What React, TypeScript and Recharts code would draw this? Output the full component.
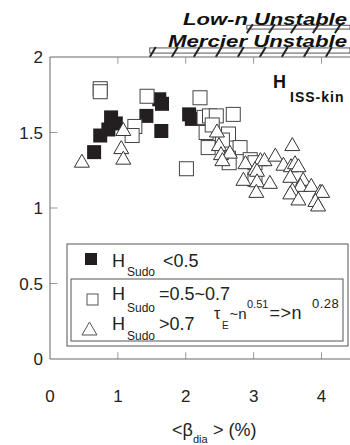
import React from "react";
import { ScatterChart, Scatter, XAxis, YAxis, ReferenceLine, ReferenceArea } from "recharts";

// H_Sudo < 0.5 (filled squares)
const lowBeta = [0.65, 0.74, 0.86, 0.9, 0.97, 1.42, 1.61, 1.65, 1.64, 2.05, 2.09];
const lowH = [1.37, 1.48, 1.52, 1.6, 1.56, 1.61, 1.72, 1.69, 1.51, 1.62, 1.59];

// H_Sudo = 0.5~0.7 (open squares)
const midBeta = [0.74, 0.74, 1.43, 1.25, 1.21, 2.01, 2.21, 2.27, 2.35, 2.45, 2.7, 2.3, 2.39, 2.33, 2.63, 2.54, 2.8, 2.63, 2.64, 2.95, 3.02, 3.02];
const midH = [1.79, 1.77, 1.74, 1.54, 1.48, 1.26, 1.73, 1.6, 1.61, 1.61, 1.62, 1.5, 1.55, 1.4, 1.49, 1.45, 1.4, 1.33, 1.3, 1.32, 1.3, 1.19];

// H_Sudo > 0.7 (open triangles)
const highBeta = [0.47, 1.08, 1.05, 1.08, 2.46, 2.49, 2.52, 2.65, 2.54, 2.88, 3.1, 3.16, 3.32, 3.44, 3.57, 3.55, 3.61, 3.66, 3.02, 3.05, 2.85, 3.05, 3.24, 3.04, 3.54, 3.73, 3.69, 3.57, 3.54, 3.66, 3.85, 3.98, 4.01, 3.91, 3.95];
const highH = [1.31, 1.52, 1.4, 1.33, 1.51, 1.42, 1.36, 1.37, 1.32, 1.3, 1.32, 1.32, 1.35, 1.29, 1.42, 1.28, 1.3, 1.28, 1.26, 1.25, 1.19, 1.18, 1.17, 1.11, 1.21, 1.19, 1.15, 1.12, 1.1, 1.06, 1.15, 1.11, 1.11, 1.05, 1.02];

const xTicks = [0, 1, 2, 3, 4];
const yTicks = [0, 0.5, 1, 1.5, 2];

// stability limits (beta where region starts)
const mercierStart = 1.47;
const lowNStart = 2.9;

const toPoints = (xs: number[], ys: number[]) => xs.map((x, i) => ({ beta: x, h: ys[i] }));

const lowData = toPoints(lowBeta, lowH);
const midData = toPoints(midBeta, midH);
const highData = toPoints(highBeta, highH);

const FONT = "'Liberation Sans', Arial, sans-serif";
const X_MAX = 4.42;

const FilledSquare = (p: any) => (
  <rect x={p.cx - 7} y={p.cy - 7} width={14} height={14} fill="#231f20" />
);
const OpenSquare = (p: any) => (
  <rect x={p.cx - 7} y={p.cy - 7} width={14} height={14} fill="#fff" stroke="#444" strokeWidth={1} />
);
const Triangle = (p: any) => (
  <polygon
    points={`${p.cx},${p.cy - 7} ${p.cx - 7.5},${p.cy + 6} ${p.cx + 7.5},${p.cy + 6}`}
    fill="#fff"
    stroke="#333"
    strokeWidth={1}
  />
);

const HatchBar = (p: any) => {
  const slashes = [];
  for (let sx = p.x + 3; sx < p.x + p.width; sx += 22) {
    slashes.push(
      <line key={sx} x1={sx + 3} y1={p.y - 1} x2={sx - 3} y2={p.y + p.height + 4} stroke="#222" strokeWidth={2} />
    );
  }
  return (
    <g>
      <rect x={p.x} y={p.y} width={p.width} height={p.height} fill="#fff" stroke="#555" strokeWidth={1} />
      {slashes}
    </g>
  );
};

export default function App() {
  return (
    <div style={{ position: "absolute", left: 0, top: 0, width: 350, height: 445, overflow: "hidden", background: "#fff" }}>
      <ScatterChart width={350} height={445} margin={{ top: 57, right: 0, bottom: 0, left: 0 }}>
        <XAxis
          type="number"
          dataKey="beta"
          domain={[0, X_MAX]}
          ticks={xTicks}
          allowDataOverflow
          height={86}
          tickLine={false}
          tickMargin={25}
          axisLine={{ stroke: "#666" }}
          tick={{ fontSize: 17, fill: "#222", fontFamily: FONT }}
        />
        <YAxis
          type="number"
          dataKey="h"
          domain={[0, 2]}
          ticks={yTicks}
          allowDataOverflow
          width={50}
          tickLine={false}
          tickMargin={1}
          axisLine={{ stroke: "#666" }}
          tick={{ fontSize: 17, fill: "#222", fontFamily: FONT }}
        />
        <ReferenceLine y={2} stroke="#666" ifOverflow="visible" />
        {xTicks.slice(1).map((t) => (
          <ReferenceLine key={`b${t}`} segment={[{ x: t, y: 0 }, { x: t, y: 0.045 }]} stroke="#999" ifOverflow="visible" />
        ))}
        {xTicks.slice(1).map((t) => (
          <ReferenceLine key={`t${t}`} segment={[{ x: t, y: 2 }, { x: t, y: 1.955 }]} stroke="#999" ifOverflow="visible" />
        ))}
        {yTicks.slice(1, -1).map((t) => (
          <ReferenceLine key={`l${t}`} segment={[{ x: 0, y: t }, { x: 0.11, y: t }]} stroke="#999" ifOverflow="visible" />
        ))}
        <ReferenceArea x1={mercierStart} x2={X_MAX} y1={2.026} y2={2.06} ifOverflow="visible" shape={HatchBar} />
        <ReferenceArea x1={lowNStart} x2={X_MAX} y1={2.185} y2={2.21} ifOverflow="visible" shape={HatchBar} />
        <Scatter data={lowData} shape={FilledSquare} isAnimationActive={false} />
        <Scatter data={midData} shape={OpenSquare} isAnimationActive={false} />
        <Scatter data={highData} shape={Triangle} isAnimationActive={false} />
      </ScatterChart>

      <svg width={350} height={445} style={{ position: "absolute", left: 0, top: 0, pointerEvents: "none" }} fontFamily={FONT}>
        <text x={183} y={25} fontSize={17} fontWeight="bold" fontStyle="italic" fill="#111" textLength={164} lengthAdjust="spacingAndGlyphs">
          Low-n Unstable
        </text>
        <text x={168} y={47} fontSize={17} fontWeight="bold" fontStyle="italic" fill="#111" textLength={179} lengthAdjust="spacingAndGlyphs">
          Mercier Unstable
        </text>

        <text fontWeight="bold" fill="#111">
          <tspan x={273} y={88} fontSize={18}>H</tspan>
          <tspan x={290} y={102} fontSize={14} letterSpacing={1}>ISS-kin</tspan>
        </text>

        <rect x={67} y={244} width={281} height={102} fill="none" stroke="#555" />
        <rect x={71} y={279} width={272} height={62} fill="none" stroke="#555" />

        <rect x={85} y={253} width={12} height={12} fill="#231f20" />
        <text x={112} y={267} fontSize={18} fill="#222">H</text>
        <text x={127} y={276} fontSize={12} fill="#222">Sudo</text>
        <text x={163} y={267} fontSize={18} fill="#222">&lt;0.5</text>

        <rect x={87} y={294} width={11} height={11} fill="#fff" stroke="#555" />
        <text x={112} y={300} fontSize={18} fill="#222">H</text>
        <text x={127} y={312} fontSize={12} fill="#222">Sudo</text>
        <text x={159} y={300} fontSize={18} fill="#222">=0.5~0.7</text>

        <polygon points="89.5,322 82,335 97,335" fill="#fff" stroke="#555" />
        <text x={112} y={330} fontSize={18} fill="#222">H</text>
        <text x={127} y={340} fontSize={12} fill="#222">Sudo</text>
        <text x={159} y={330} fontSize={18} fill="#222">&gt;0.7</text>

        <text fill="#222">
          <tspan x={214} y={319} fontSize={16}>τ</tspan>
          <tspan x={222} y={329} fontSize={10}>E</tspan>
          <tspan x={229.5} y={319} fontSize={15}>~n</tspan>
          <tspan x={247} y={308} fontSize={11}>0.51</tspan>
          <tspan x={269.5} y={319} fontSize={18} letterSpacing={0.5}>=&gt;n</tspan>
          <tspan x={312} y={308} fontSize={13} letterSpacing={0.5}>0.28</tspan>
        </text>

        <text fill="#222">
          <tspan x={172} y={436} fontSize={18}>&lt;β</tspan>
          <tspan x={193} y={443} fontSize={11}>dia</tspan>
          <tspan x={213} y={436} fontSize={18}>&gt; (%)</tspan>
        </text>
      </svg>
    </div>
  );
}
